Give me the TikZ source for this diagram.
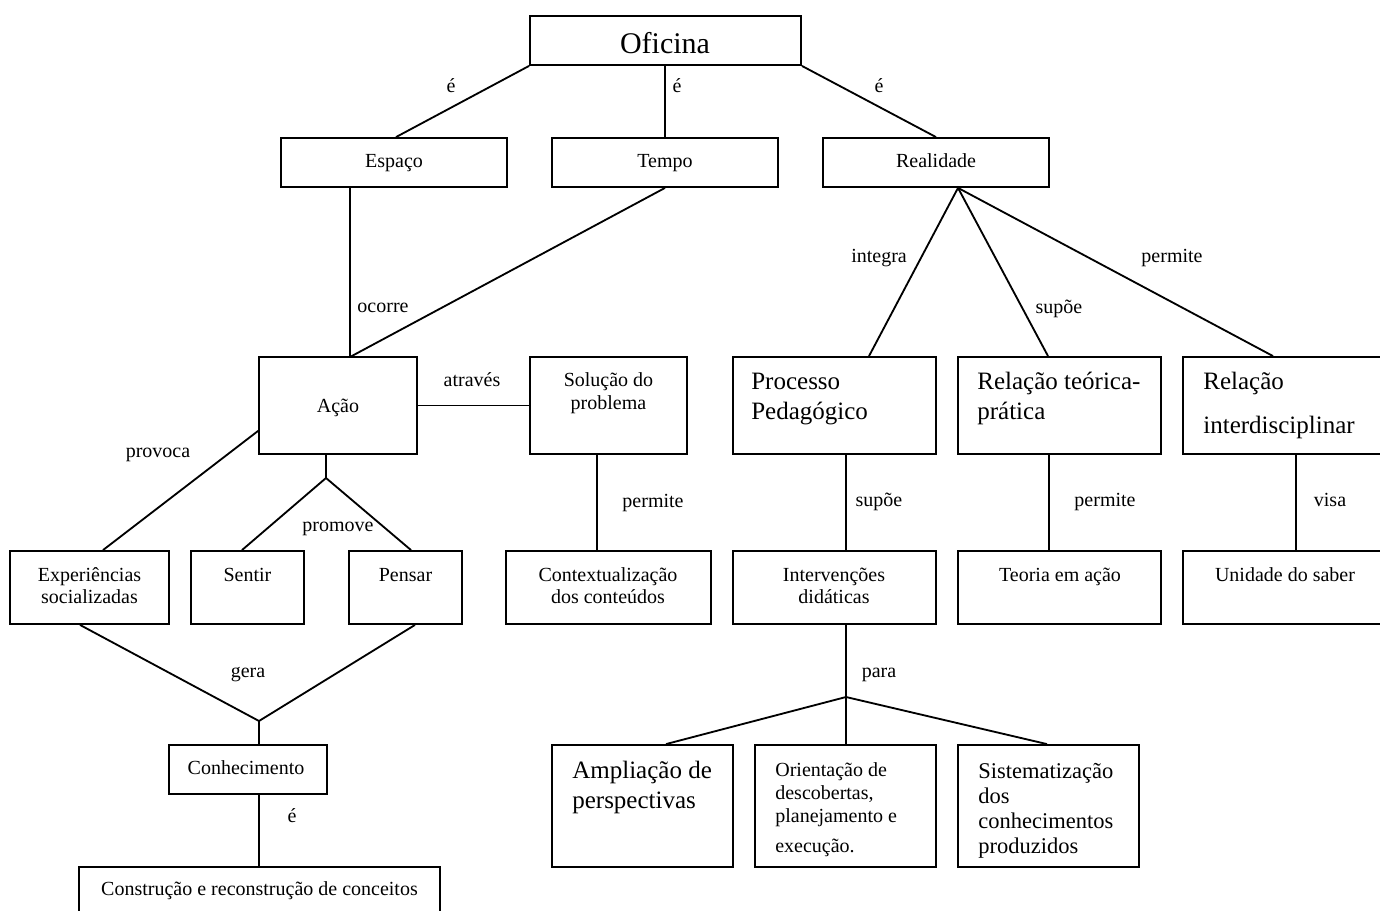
\documentclass[tikz,border=0pt]{standalone}
\usepackage{fontspec}
\setmainfont{Liberation Serif}
\begin{document}
\begin{tikzpicture}[x=0.6pt,y=-0.6pt,
  box/.style={draw, line width=1.1pt, inner sep=0pt, minimum height=29.4pt},
  hA/.style={minimum height=58.2pt},
  hB/.style={minimum height=43.8pt},
  hC/.style={minimum height=73.2pt},
  conn/.style={line width=1.1pt},
  lbl/.style={inner sep=0pt, anchor=base, font=\fontsize{12}{14}\selectfont},
  txt/.style={inner sep=0pt, anchor=base, font=\fontsize{12}{14}\selectfont},
  txtl/.style={inner sep=0pt, anchor=base west, font=\fontsize{12}{14}\selectfont},
  bigl/.style={inner sep=0pt, anchor=base west, font=\fontsize{15}{18}\selectfont},
  medl/.style={inner sep=0pt, anchor=base west, font=\fontsize{13.5}{16}\selectfont},
  title/.style={inner sep=0pt, anchor=base, font=\fontsize{18}{21}\selectfont}]
\useasboundingbox (0,0) rectangle (1380,911);
\clip (0,0) rectangle (1380,911);
% boxes
\node[box, minimum width=162.6pt] (ofi) at (665.5,40.5) {};
\node[box, minimum width=135.6pt] (esp) at (394,162.5) {};
\node[box, minimum width=135.6pt] (tem) at (665,162.5) {};
\node[box, minimum width=135.6pt] (rea) at (936,162.5) {};
\node[box, hA, minimum width=94.8pt] (aca) at (338,405.5) {};
\node[box, hA, minimum width=94.2pt] (sol) at (608.5,405.5) {};
\node[box, hA, minimum width=121.8pt] (pro) at (834.5,405.5) {};
\node[box, hA, minimum width=121.8pt] (rte) at (1059.5,405.5) {};
\node[box, hA, minimum width=127.2pt] (rin) at (1289,405.5) {};
\node[box, hB, minimum width=95.4pt] (exp) at (89.5,587.5) {};
\node[box, hB, minimum width=67.8pt] (sen) at (247.5,587.5) {};
\node[box, hB, minimum width=67.8pt] (pen) at (405.5,587.5) {};
\node[box, hB, minimum width=123pt] (con) at (608.5,587.5) {};
\node[box, hB, minimum width=121.8pt] (int) at (834.5,587.5) {};
\node[box, hB, minimum width=121.8pt] (teo) at (1059.5,587.5) {};
\node[box, hB, minimum width=127.2pt] (uni) at (1289,587.5) {};
\node[box, minimum width=94.8pt] (chc) at (248,769.5) {};
\node[box, minimum width=216.6pt, minimum height=34.8pt] (cst) at (259.5,896) {};
\node[box, hC, minimum width=108.6pt] (amp) at (642.5,806) {};
\node[box, hC, minimum width=108.6pt] (ori) at (845.5,806) {};
\node[box, hC, minimum width=108.6pt] (sis) at (1048.5,806) {};
% junctions
\coordinate (j1) at (350,357);
\coordinate (b1) at (326,478);
\coordinate (g) at (259,721);
\coordinate (p) at (846,697);
% connectors
\draw[conn] (ofi.south west) -- ([xshift=1.2pt]esp.north);
\draw[conn] (ofi.south -| tem.north) -- (tem.north);
\draw[conn] (ofi.south east) -- (rea.north);
\draw[conn] (esp.south -| j1) -- (j1);
\draw[conn] (tem.south) -- (j1);
\draw[conn] (aca.east) -- (sol.west);
\draw[conn] ([yshift=14.4pt]aca.south west) -- ([xshift=8.1pt]exp.north);
\draw[conn] (aca.south -| b1) -- (b1);
\draw[conn] ([xshift=-3.3pt]sen.north) -- (b1) -- ([xshift=3.3pt]pen.north);
\draw[conn] ([xshift=-6.9pt]sol.south) -- ([xshift=-6.9pt]con.north);
\draw[conn] ([xshift=-5.7pt]exp.south) -- (g) -- ([xshift=5.7pt]pen.south);
\draw[conn] (g) -- (chc.north -| g);
\draw[conn] (chc.south -| g) -- (cst.north -| g);
\draw[conn] ([xshift=20.7pt]pro.north) -- ([xshift=13.2pt]rea.south) -- ([xshift=-6.9pt]rte.north);
\draw[conn] ([xshift=13.2pt]rea.south) -- ([xshift=-9.6pt]rin.north);
\draw[conn] ([xshift=6.9pt]pro.south) -- ([xshift=6.9pt]int.north);
\draw[conn] ([xshift=-6.3pt]rte.south) -- ([xshift=-6.3pt]teo.north);
\draw[conn] ([xshift=4.2pt]rin.south) -- ([xshift=4.2pt]uni.north);
\draw[conn] (int.south -| p) -- (p);
\draw[conn] ([xshift=14.1pt]amp.north) -- (p) -- ([xshift=-0.9pt]sis.north);
\draw[conn] (p) -- (ori.north -| p);
% connector labels
\node[lbl] (l1) at (451,93) {é};
\node[lbl] (l2) at (677,93) {é};
\node[lbl] (l3) at (879,93) {é};
\node[lbl] (l4) at (383,312) {ocorre};
\node[lbl] (l5) at (879,263) {integra};
\node[lbl] (l6) at (1059,313) {supõe};
\node[lbl] (l7) at (1172,263) {permite};
\node[lbl] (l8) at (472,386) {através};
\node[lbl] (l9) at (158,457) {provoca};
\node[lbl] (l10) at (338,531) {promove};
\node[lbl] (l11) at (653,507) {permite};
\node[lbl] (l12) at (879,506) {supõe};
\node[lbl] (l13) at (1105,506) {permite};
\node[lbl] (l14) at (1330,506) {visa};
\node[lbl] (l15) at (248,677) {gera};
\node[lbl] (l16) at (879,677) {para};
\node[lbl] (l17) at (292,822) {é};
% box texts
\node[title] (t-ofi) at (665,54) {Oficina};
\node[txt] (t-esp) at (394,168) {Espaço};
\node[txt] (t-tem) at (665,168) {Tempo};
\node[txt] (t-rea) at (936,168) {Realidade};
\node[txt] (t-aca) at (338,412) {Ação};
\node[txt] (t-sol1) at (608.5,386) {Solução do};
\node[txt] (t-sol2) at (608.5,409) {problema};
\node[bigl] (t-pro1) at (751,389) {Processo};
\node[bigl] (t-pro2) at (751,419) {Pedagógico};
\node[bigl] (t-rte1) at (977,389) {Relação teórica-};
\node[bigl] (t-rte2) at (977,419) {prática};
\node[bigl] (t-rin1) at (1203,389) {Relação};
\node[bigl] (t-rin2) at (1203,433) {interdisciplinar};
\node[txt] (t-exp1) at (89.5,581) {Experiências};
\node[txt] (t-exp2) at (89.5,603) {socializadas};
\node[txt] (t-sen) at (247.5,581) {Sentir};
\node[txt] (t-pen) at (405.5,581) {Pensar};
\node[txt] (t-con1) at (608,581) {Contextualização};
\node[txt] (t-con2) at (608,603) {dos conteúdos};
\node[txt] (t-int1) at (834,581) {Intervenções};
\node[txt] (t-int2) at (834,603) {didáticas};
\node[txt] (t-teo) at (1060,581) {Teoria em ação};
\node[txt] (t-uni) at (1285,581) {Unidade do saber};
\node[txt] (t-chc) at (246,774) {Conhecimento};
\node[txt] (t-cst) at (259.5,895) {Construção e reconstrução de conceitos};
\node[bigl] (t-amp1) at (572,778) {Ampliação de};
\node[bigl] (t-amp2) at (572,808) {perspectivas};
\node[txtl] (t-ori1) at (775,776) {Orientação de};
\node[txtl] (t-ori2) at (775,799) {descobertas,};
\node[txtl] (t-ori3) at (775,822) {planejamento e};
\node[txtl] (t-ori4) at (775,852) {execução.};
\node[medl] (t-sis1) at (978,778) {Sistematização};
\node[medl] (t-sis2) at (978,803) {dos};
\node[medl] (t-sis3) at (978,828) {conhecimentos};
\node[medl] (t-sis4) at (978,853) {produzidos};
\end{tikzpicture}
\end{document}
